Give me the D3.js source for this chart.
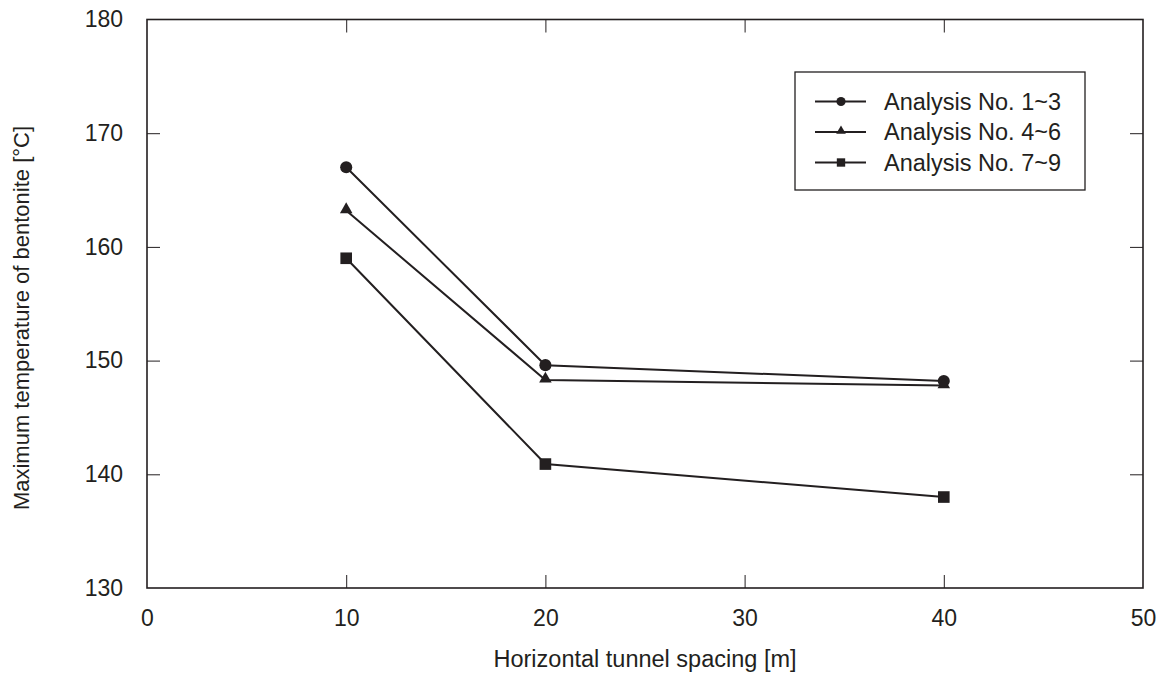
<!DOCTYPE html>
<html>
<head>
<meta charset="utf-8">
<script src="https://cdn.jsdelivr.net/npm/d3@7"></script>
<style>
  body { margin: 0; background: #fff; }
  text { font-family: "Liberation Sans", Arial, sans-serif; fill: #231f20; }
</style>
</head>
<body>
<svg id="chart" width="1165" height="673"></svg>
<script>
// Tunnel spacing (m) and maximum bentonite temperature (°C) for each analysis group
const spacing = [10, 20, 40];
const seriesNames = ["Analysis No. 1~3", "Analysis No. 4~6", "Analysis No. 7~9"];
const seriesSymbols = ["circle", "triangle", "square"];
const tempNo1to3 = [167.0, 149.6, 148.2];
const tempNo4to6 = [163.2, 148.3, 147.8];
const tempNo7to9 = [159.0, 140.9, 138.0];
const xTicks = [0, 10, 20, 30, 40, 50];
const yTicks = [130, 140, 150, 160, 170, 180];

const seriesValues = [tempNo1to3, tempNo4to6, tempNo7to9];
const ink = "#231f20";

const svg = d3.select("#chart");
const plotLeft = 147, plotRight = 1143, plotTop = 19.5, plotBottom = 588;

const x = d3.scaleLinear().domain([0, 50]).range([plotLeft, plotRight]);
const y = d3.scaleLinear().domain([130, 180]).range([plotBottom, plotTop]);

const tickLen = 13;
const fontStack = "'Liberation Sans', Arial, sans-serif";
const labelSize = 23;

// Bottom axis labels and inward ticks
const gB = svg.append("g").attr("transform", `translate(0,${plotBottom})`)
  .call(d3.axisBottom(x).tickValues(xTicks).tickSizeInner(-tickLen).tickSizeOuter(0).tickPadding(22));
gB.select(".domain").remove();
gB.selectAll("text").attr("font-size", labelSize).style("font-family", fontStack).attr("fill", ink);
gB.selectAll("line").attr("stroke", ink).attr("stroke-width", 1);
gB.selectAll(".tick").filter(d => d === 0 || d === 50).select("line").remove();

// Top axis inward ticks
const gT = svg.append("g").attr("transform", `translate(0,${plotTop})`)
  .call(d3.axisTop(x).tickValues(xTicks.filter(d => d > 0 && d < 50)).tickSizeInner(-tickLen).tickSizeOuter(0).tickFormat(""));
gT.select(".domain").remove();
gT.selectAll("line").attr("stroke", ink).attr("stroke-width", 1);

// Left axis labels and inward ticks
const gL = svg.append("g").attr("transform", `translate(${plotLeft},0)`)
  .call(d3.axisLeft(y).tickValues(yTicks).tickSizeInner(-tickLen).tickSizeOuter(0).tickPadding(24));
gL.select(".domain").remove();
gL.selectAll("text").attr("font-size", labelSize).style("font-family", fontStack).attr("fill", ink);
gL.selectAll("line").attr("stroke", ink).attr("stroke-width", 1);
gL.selectAll(".tick").filter(d => d === 130 || d === 180).select("line").remove();

// Right axis inward ticks
const gR = svg.append("g").attr("transform", `translate(${plotRight},0)`)
  .call(d3.axisRight(y).tickValues(yTicks.filter(d => d > 130 && d < 180)).tickSizeInner(-tickLen).tickSizeOuter(0).tickFormat(""));
gR.select(".domain").remove();
gR.selectAll("line").attr("stroke", ink).attr("stroke-width", 1);

// Plot frame
svg.append("rect")
  .attr("x", plotLeft).attr("y", plotTop)
  .attr("width", plotRight - plotLeft).attr("height", plotBottom - plotTop)
  .attr("fill", "none").attr("stroke", ink).attr("stroke-width", 1.6);

// Axis titles
svg.append("text")
  .attr("x", 645).attr("y", 667)
  .attr("text-anchor", "middle").attr("font-size", 23.5)
  .text("Horizontal tunnel spacing [m]");
svg.append("text")
  .attr("transform", `translate(29,318) rotate(-90)`)
  .attr("text-anchor", "middle").attr("font-size", 22)
  .text("Maximum temperature of bentonite [°C]");

// Marker shapes: data points and the smaller legend swatches
const markerSym = {
  circle: d3.symbol().type(d3.symbolCircle).size(115),
  triangle: d3.symbol().type(d3.symbolTriangle).size(68),
  square: d3.symbol().type(d3.symbolSquare).size(135)
};
const legendSym = {
  circle: d3.symbol().type(d3.symbolCircle).size(66),
  triangle: d3.symbol().type(d3.symbolTriangle).size(40),
  square: d3.symbol().type(d3.symbolSquare).size(70)
};

const line = d3.line().x(d => x(d[0])).y(d => y(d[1]));

seriesValues.forEach((vals, i) => {
  const pts = spacing.map((s, j) => [s, vals[j]]);
  svg.append("path")
    .datum(pts)
    .attr("d", line)
    .attr("fill", "none").attr("stroke", ink).attr("stroke-width", 2);
  svg.selectAll(null)
    .data(pts)
    .enter().append("path")
    .attr("d", markerSym[seriesSymbols[i]])
    .attr("transform", d => `translate(${x(d[0])},${y(d[1]) + (seriesSymbols[i] === "triangle" ? -1 : 0)})`)
    .attr("fill", ink);
});

// Legend
const legend = svg.append("g");
legend.append("rect")
  .attr("x", 795).attr("y", 72).attr("width", 290).attr("height", 118)
  .attr("fill", "#fff").attr("stroke", ink).attr("stroke-width", 1.3);
seriesNames.forEach((name, i) => {
  const ly = 101.5 + i * 30.5;
  legend.append("line")
    .attr("x1", 815).attr("x2", 866).attr("y1", ly).attr("y2", ly)
    .attr("stroke", ink).attr("stroke-width", 2);
  legend.append("path")
    .attr("d", legendSym[seriesSymbols[i]])
    .attr("transform", `translate(841,${ly + (seriesSymbols[i] === "triangle" ? -1 : 0)})`)
    .attr("fill", ink);
  legend.append("text")
    .attr("x", 884).attr("y", ly).attr("dy", "0.35em")
    .attr("font-size", 23.5)
    .text(name);
});
</script>
</body>
</html>
